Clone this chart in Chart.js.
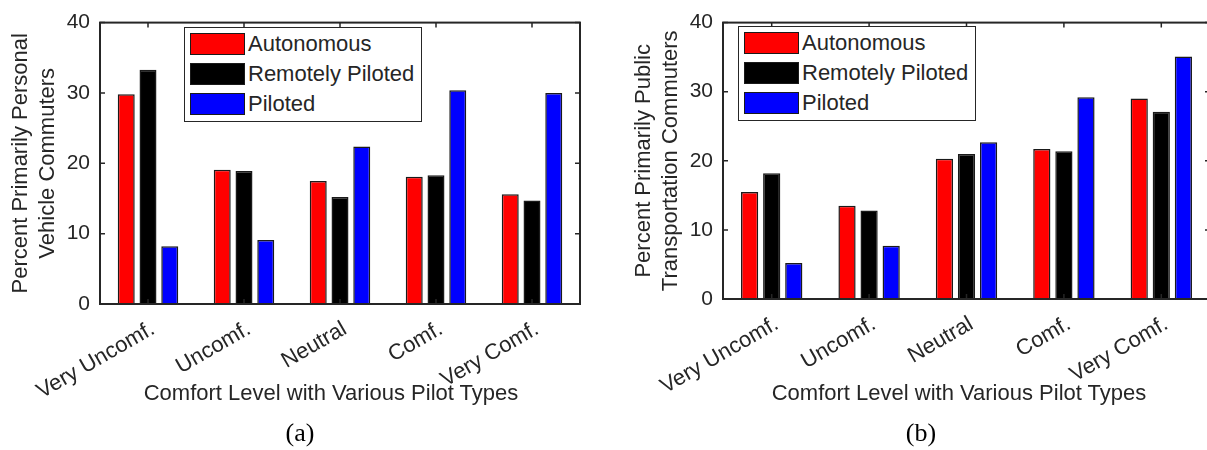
<!DOCTYPE html>
<html>
<head>
<meta charset="utf-8">
<script src="https://cdn.jsdelivr.net/npm/chart.js@4.4.1/dist/chart.umd.min.js"></script>
<style>
    html, body { margin: 0; padding: 0; background: #fff; overflow: hidden; }
    body { width: 1207px; height: 450px; position: relative; font-family: 'Liberation Sans', Arial, sans-serif; }
    canvas { position: absolute; top: 0; }
    #chartA { left: 0; }
    #chartB { left: 623px; }
    .legend { position: absolute; box-sizing: border-box; width: 238px; height: 95px; border: 1.5px solid #262626; background: #fff; }
    .legend-item { position: absolute; left: 5px; height: 22px; display: flex; align-items: center; white-space: nowrap; }
    .swatch { box-sizing: border-box; width: 55px; height: 22px; border: 1.5px solid #1a1a1a; }
    .legend-item span { margin-left: 3px; font-size: 22px; color: #262626; }
    .xtitle { position: absolute; top: 379px; font-size: 22px; line-height: 27.5px; color: #262626; white-space: nowrap; transform: translateX(-50%); }
    .caption { position: absolute; font-family: 'Liberation Serif', 'Times New Roman', serif; font-size: 26px; color: #000; transform: translateX(-50%); }
</style>
</head>
<body>
<canvas id="chartA" width="600" height="450"></canvas>
<canvas id="chartB" width="620" height="450"></canvas>
<div class="legend" id="legendA" style="left:184px; top:27px;"></div>
<div class="legend" id="legendB" style="left:738px; top:26px;"></div>
<div class="xtitle" id="xTitleA" style="left:331px;"></div>
<div class="xtitle" id="xTitleB" style="left:959px;"></div>
<div class="caption" style="left:300px; top:418px;">(a)</div>
<div class="caption" style="left:921px; top:418px;">(b)</div>
<script>
// Chart data
const categories = ['Very Uncomf.', 'Uncomf.', 'Neutral', 'Comf.', 'Very Comf.'];
const seriesNames = ['Autonomous', 'Remotely Piloted', 'Piloted'];
const seriesColors = ['#ff0000', '#000000', '#0000ff'];
const yTicks = [0, 10, 20, 30, 40];
const xTitle = 'Comfort Level with Various Pilot Types';

// (a) primarily personal vehicle commuters
const personalAutonomous = [29.8, 19.1, 17.5, 18.1, 15.6];
const personalRemote = [33.3, 18.9, 15.2, 18.3, 14.7];
const personalPiloted = [8.2, 9.1, 22.4, 30.4, 30.0];

// (b) primarily public transportation commuters
const publicAutonomous = [15.5, 13.5, 20.3, 21.7, 29.0];
const publicRemote = [18.2, 12.8, 21.0, 21.4, 27.1];
const publicPiloted = [5.2, 7.7, 22.7, 29.2, 35.1];

const FONT = "'Liberation Sans', Arial, sans-serif";
const TEXT = '#262626';

// Box around the plot with inward ticks (matlab style)
const boxPlugin = {
    id: 'box',
    afterDatasetsDraw(chart) {
        const { ctx, chartArea: a, scales: { x, y } } = chart;
        ctx.save();
        ctx.strokeStyle = TEXT;
        ctx.lineWidth = 1.5;
        ctx.beginPath();
        categories.forEach((c, i) => {
            const px = x.getPixelForValue(i);
            ctx.moveTo(px, a.bottom); ctx.lineTo(px, a.bottom - 5);
            ctx.moveTo(px, a.top); ctx.lineTo(px, a.top + 5);
        });
        yTicks.forEach(v => {
            const py = y.getPixelForValue(v);
            ctx.moveTo(a.left, py); ctx.lineTo(a.left + 5, py);
            ctx.moveTo(a.right, py); ctx.lineTo(a.right - 5, py);
        });
        ctx.stroke();
        ctx.lineWidth = 2;
        ctx.strokeRect(a.left, a.top, a.right - a.left, a.bottom - a.top);
        ctx.restore();
    }
};

// Function to build the html legend
function renderLegend(id) {
    const box = document.getElementById(id);
    seriesNames.forEach((name, i) => {
        const item = document.createElement('div');
        item.className = 'legend-item';
        item.style.top = (5 + i * 30) + 'px';
        const sw = document.createElement('div');
        sw.className = 'swatch';
        sw.style.background = seriesColors[i];
        const label = document.createElement('span');
        label.textContent = name;
        item.appendChild(sw);
        item.appendChild(label);
        box.appendChild(item);
    });
}

// Function to render one grouped bar chart
function renderCommuterChart(canvasId, values, yTitle, pad, xHeight) {
    const ctx = document.getElementById(canvasId).getContext('2d');
    return new Chart(ctx, {
        type: 'bar',
        data: {
            labels: categories,
            datasets: values.map((d, i) => ({
                label: seriesNames[i],
                data: d,
                backgroundColor: seriesColors[i],
                borderColor: '#1a1a1a',
                borderWidth: 1.5,
                categoryPercentage: 0.68,
                barPercentage: 0.78
            }))
        },
        options: {
            responsive: false,
            animation: false,
            devicePixelRatio: 1,
            layout: { padding: pad },
            plugins: {
                legend: { display: false },
                tooltip: { enabled: false }
            },
            scales: {
                x: {
                    grid: { display: false, drawTicks: false },
                    border: { display: false },
                    ticks: {
                        font: { size: 22, family: FONT },
                        color: TEXT,
                        minRotation: 30,
                        maxRotation: 30,
                        autoSkip: false,
                        padding: 12,
                        labelOffset: 5
                    },
                    afterFit: s => { s.height = xHeight; }
                },
                y: {
                    min: 0,
                    max: 40,
                    grid: { display: false, drawTicks: false },
                    border: { display: false },
                    ticks: {
                        stepSize: 10,
                        padding: 10,
                        font: { size: 21, family: FONT },
                        color: TEXT
                    },
                    title: {
                        display: true,
                        text: yTitle,
                        font: { size: 22, family: FONT, lineHeight: 1.25 },
                        color: TEXT,
                        padding: { top: 7, bottom: 0 }
                    },
                    afterFit: s => { s.width = 100; }
                }
            }
        },
        plugins: [boxPlugin]
    });
}

renderCommuterChart('chartA',
    [personalAutonomous, personalRemote, personalPiloted],
    ['Percent Primarily Personal', 'Vehicle Commuters'],
    { top: 13.5, right: 20, bottom: 0, left: 0 }, 146);

renderCommuterChart('chartB',
    [publicAutonomous, publicRemote, publicPiloted],
    ['Percent Primarily Public', 'Transportation Commuters'],
    { top: 13, right: 33, bottom: 0, left: 0 }, 151);

renderLegend('legendA');
renderLegend('legendB');
document.getElementById('xTitleA').textContent = xTitle;
document.getElementById('xTitleB').textContent = xTitle;
</script>
</body>
</html>
